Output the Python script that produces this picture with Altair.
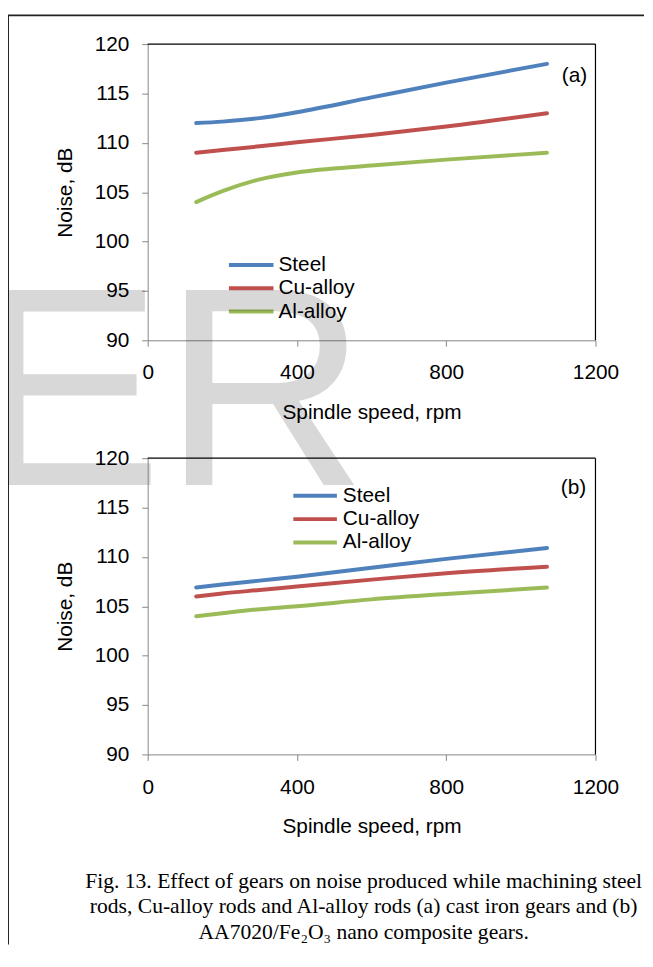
import altair as alt
import pandas as pd

# ---------------- data ----------------
rpm = [130, 200, 300, 400, 600, 800, 1070]
series = ["Steel", "Cu-alloy", "Al-alloy"]
colors = ["#4F81BD", "#C0504D", "#9BBB59"]

a_steel = [112.0, 112.15, 112.5, 113.1, 114.6, 116.1, 118.0]
a_cu = [109.0, 109.27, 109.65, 110.05, 110.8, 111.65, 113.0]
a_al = [104.0, 105.1, 106.3, 107.0, 107.7, 108.3, 109.0]

b_steel = [106.9, 107.2, 107.6, 108.0, 108.9, 109.8, 110.9]
b_cu = [106.0, 106.3, 106.65, 107.0, 107.7, 108.35, 109.0]
b_al = [104.0, 104.3, 104.7, 105.0, 105.7, 106.25, 106.9]

x_ticks = [0, 400, 800, 1200]
y_ticks = [90, 95, 100, 105, 110, 115, 120]

x_title = "Spindle speed, rpm"
y_title = "Noise, dB"
panel_tags = ["(a)", "(b)"]
watermark = "ER"
caption = ("Fig. 13. Effect of gears on noise produced while machining steel\n"
           "rods, Cu-alloy rods and Al-alloy rods (a) cast iron gears and (b)\n"
           "AA7020/Fe\u2082O\u2083 nano composite gears.")

SANS = "Liberation Sans, Arial, sans-serif"
SERIF = "Liberation Serif, Times New Roman, serif"
W, H = 452, 299
GRAY = "#868686"
FS = 21


def long_df(vals):
    rows = []
    for name, ys in zip(series, vals):
        for x, y in zip(rpm, ys):
            rows.append({"series": name, "rpm": x, "noise": y})
    return pd.DataFrame(rows)


df_a = long_df([a_steel, a_cu, a_al])
df_b = long_df([b_steel, b_cu, b_al])
legend_df = pd.DataFrame({"series": series})
one = pd.DataFrame({"k": [0]})

color_enc = alt.Color("series:N", scale=alt.Scale(domain=series, range=colors), legend=None)


def panel(df, tag, leg_x1, leg_x2, leg_tx, leg_rows, tag_xy, extras):
    lines = alt.Chart(df).mark_line(strokeWidth=4, interpolate="monotone", strokeCap="round").encode(
        x=alt.X("rpm:Q", scale=alt.Scale(domain=[0, 1200], nice=False),
                axis=alt.Axis(values=x_ticks, title=x_title, format="d", grid=False,
                              labelFlush=False, labelOverlap=False,
                              labelFont=SANS, titleFont=SANS, labelFontSize=FS, titleFontSize=FS,
                              titleFontWeight="normal", labelColor="#000", titleColor="#000",
                              domainColor=GRAY, tickColor=GRAY, tickSize=6,
                              labelPadding=16, titlePadding=19)),
        y=alt.Y("noise:Q", scale=alt.Scale(domain=[90, 120], nice=False, zero=False),
                axis=alt.Axis(values=y_ticks, title=y_title, grid=False,
                              labelFont=SANS, titleFont=SANS, labelFontSize=FS, titleFontSize=FS,
                              titleFontWeight="normal", labelColor="#000", titleColor="#000",
                              domainColor=GRAY, tickColor=GRAY, tickSize=6,
                              labelPadding=13, titlePadding=19)),
        color=color_enc,
    )
    border_top = alt.Chart(one).mark_rule(color="#000", strokeWidth=1.2).encode(
        x=alt.value(0), x2=alt.value(W), y=alt.value(0))
    border_right = alt.Chart(one).mark_rule(color="#000", strokeWidth=1.2).encode(
        x=alt.value(W), y=alt.value(0), y2=alt.value(H))
    leg_y = alt.Y("series:N", scale=alt.Scale(domain=series, range=leg_rows, type="point", padding=0), axis=None)
    leg_lines = alt.Chart(legend_df).mark_rule(strokeWidth=4).encode(
        x=alt.value(leg_x1), x2=alt.value(leg_x2), y=leg_y, color=color_enc)
    leg_text = alt.Chart(legend_df).mark_text(align="left", baseline="middle", font=SANS,
                                              fontSize=FS, color="#000").encode(
        x=alt.value(leg_tx), y=leg_y, text="series:N")
    tag_mark = alt.Chart(pd.DataFrame({"t": [tag]})).mark_text(
        align="left", baseline="middle", font=SANS, fontSize=FS, color="#000").encode(
        x=alt.value(tag_xy[0]), y=alt.value(tag_xy[1]), text="t:N")
    layers = [lines, border_top, border_right, leg_lines, leg_text, tag_mark] + extras
    return alt.layer(*layers).resolve_scale(y="independent").properties(width=W, height=H)


frame_left = alt.Chart(one).mark_rule(color="#222", strokeWidth=2).encode(
    x=alt.value(-141), y=alt.value(-29), y2=alt.value(909))
frame_top = alt.Chart(one).mark_rule(color="#222", strokeWidth=2).encode(
    x=alt.value(-142), x2=alt.value(501), y=alt.value(-29))
wm = alt.Chart(pd.DataFrame({"t": [watermark]})).mark_text(
    align="left", baseline="alphabetic", font=SANS, fontSize=286, color="#000", opacity=0.15).encode(
    x=alt.value(-175.6), y=alt.value(445), text="t:N")

cap = alt.Chart(pd.DataFrame({"t": [caption]})).mark_text(
    align="center", baseline="top", font=SERIF, fontSize=21.8, color="#000",
    lineBreak="\n", lineHeight=25.5).encode(
    x=alt.value(218), y=alt.value(417), text="t:N")

pa = panel(df_a, panel_tags[0], 82, 127, 132, [223, 270], (418, 32), [frame_left, frame_top, wm])
pb = panel(df_b, panel_tags[1], 147, 191, 197, [38, 85], (417, 30), [cap])

chart = alt.vconcat(pa, pb, spacing=119, bounds="flush").properties(
    padding={"left": -35, "top": 2, "right": 0, "bottom": 0},
    background="white",
).configure_view(stroke=None)

chart.save("out.html", embed_options={"renderer": "svg", "actions": False})
